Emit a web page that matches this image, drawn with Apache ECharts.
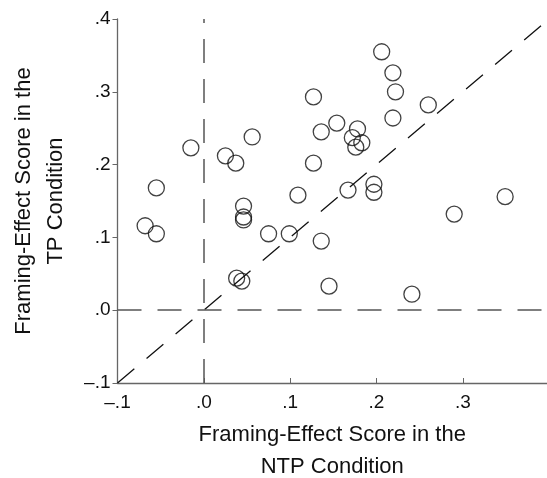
<!DOCTYPE html>
<html><head><meta charset="utf-8">
<script src="https://cdn.jsdelivr.net/npm/echarts@6/dist/echarts.min.js"></script>
<style>html,body{margin:0;padding:0;background:#fff}#c{width:547px;height:478px}</style>
</head><body><div id="c"></div>
<script>
var ntpScores = [-0.068,-0.055,-0.055,-0.015,0.025,0.037,0.056,0.046,0.046,0.046,0.075,0.099,0.038,0.044,0.109,0.127,0.127,0.136,0.154,0.178,0.172,0.183,0.176,0.167,0.197,0.197,0.136,0.145,0.206,0.219,0.222,0.219,0.260,0.241,0.290,0.349];
var tpScores  = [0.116,0.105,0.168,0.223,0.212,0.202,0.238,0.143,0.128,0.124,0.105,0.105,0.044,0.040,0.158,0.293,0.202,0.245,0.257,0.249,0.237,0.230,0.224,0.165,0.173,0.162,0.095,0.033,0.355,0.326,0.300,0.264,0.282,0.022,0.132,0.156];
var identityLine = [[-0.1,-0.1],[0.4,0.4]];
var xTitle = "Framing-Effect Score in the\nNTP Condition";
var yTitle = "Framing-Effect Score in the\nTP Condition";

function fmt(v){
  var r = Math.round(v*10)/10;
  var s = Math.abs(r).toFixed(1).replace(/^0/,'');
  return (r<0?'\u2013':'') + s;
}
var pts = ntpScores.map(function(x,i){return [x,tpScores[i]];});
var font = '"Liberation Sans",Arial,sans-serif';
var axisColor = '#666';
var chart = echarts.init(document.getElementById('c'));
chart.setOption({
  animation:false,
  grid:{left:117.5,top:19,right:0,bottom:95,containLabel:false,outerBoundsMode:'none'},
  xAxis:{type:'value',min:-0.1,max:0.3975,interval:0.1,
    name:xTitle,nameLocation:'middle',nameGap:36,
    nameTextStyle:{fontFamily:font,fontSize:22,color:'#111',lineHeight:32,verticalAlign:'top'},
    axisLine:{onZero:false,lineStyle:{color:axisColor,width:1.3}},
    axisTick:{show:true,inside:true,length:5,lineStyle:{color:axisColor}},
    axisLabel:{formatter:fmt,fontFamily:font,fontSize:19,color:'#111',margin:10,showMaxLabel:false},
    splitLine:{show:false}},
  yAxis:{type:'value',min:-0.1,max:0.4,interval:0.1,
    name:yTitle,nameLocation:'middle',nameGap:46,nameRotate:90,
    nameTextStyle:{fontFamily:font,fontSize:22,color:'#111',lineHeight:32},
    axisLine:{show:true,onZero:false,lineStyle:{color:axisColor,width:1.3}},
    axisTick:{show:true,inside:false,length:5,lineStyle:{color:axisColor}},
    axisLabel:{formatter:fmt,fontFamily:font,fontSize:19,color:'#111',margin:7},
    splitLine:{show:false}},
  series:[
    {type:'line',data:identityLine,symbol:'none',silent:true,clip:true,
     lineStyle:{color:'#111',width:1.3,type:[22,16]},
     markLine:{silent:true,symbol:'none',label:{show:false},
       lineStyle:{color:'#555',width:1.5,type:[24,16]},
       data:[{xAxis:0},{yAxis:0}]}},
    {type:'scatter',data:pts,symbol:'circle',symbolSize:16,
     itemStyle:{color:'rgba(0,0,0,0)',borderColor:'#111',borderWidth:1.3}}
  ]
});
</script></body></html>
